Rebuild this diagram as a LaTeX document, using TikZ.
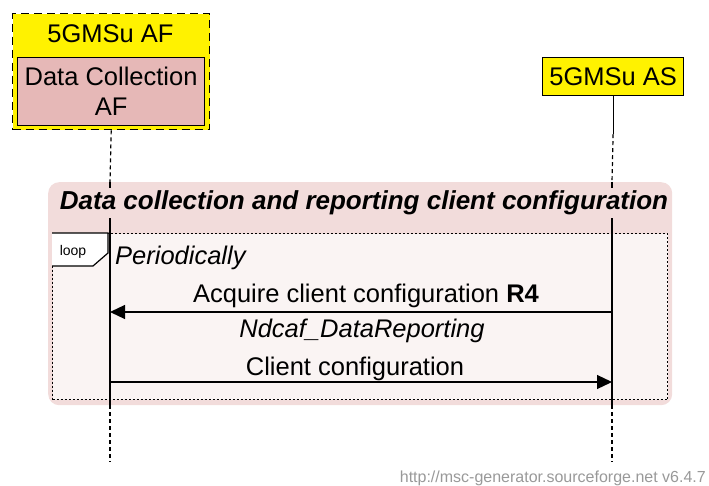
\documentclass[tikz,border=0pt]{standalone}
\usepackage{fontspec}
\setmainfont{Liberation Sans}
\usetikzlibrary{arrows.meta}
\definecolor{dcfill}{HTML}{E6B8B7}
\definecolor{hdr}{HTML}{F2DCDB}
\definecolor{body}{HTML}{FAF4F3}
\definecolor{foot}{HTML}{999999}
\tikzset{
  ent/.style={draw=black, line width=1.2pt, fill=yellow, inner sep=0pt},
  lifesolid/.style={draw=black, line width=1.2pt},
  lifedash/.style={draw=black, line width=1.2pt, dash pattern=on 4pt off 3pt},
  msg/.style={draw=black, line width=1.2pt, -{Triangle[length=15pt,width=14pt]}},
  lbl/.style={inner sep=0pt, font=\fontsize{25.5}{30}\selectfont},
}
\begin{document}
\begin{tikzpicture}[x=1pt,y=-1pt]
\useasboundingbox (0,0) rectangle (709,486);
% entities
\node[ent, dash pattern=on 8pt off 5pt, line width=1.4pt, minimum width=197pt, minimum height=116pt, anchor=north west] (af) at (12,13) {};
\node[lbl] (aftitle) at (110.5,34) {5GMSu AF};
\node[draw=black, line width=1.2pt, fill=dcfill, minimum width=187pt, minimum height=68pt, anchor=north west, inner sep=0pt, align=center, font=\fontsize{25.5}{30}\selectfont] (dcaf) at (17,57) {Data Collection\\AF};
\node[ent, minimum width=141pt, minimum height=38pt, anchor=north west, font=\fontsize{25.5}{30}\selectfont] (as) at (542,57) {5GMSu AS};
% coordinates on lifelines
\coordinate (l1a) at (110,182);
\coordinate (l1b) at (110,405);
\coordinate (l1c) at (110,462);
\coordinate (l2a) at (612,182);
\coordinate (l2b) at (612,405);
\coordinate (l2c) at (612,462);
% main box
\node[fill=hdr, rounded corners=11pt, minimum width=624pt, minimum height=223pt, anchor=north west, inner sep=0pt] (grp) at (48,182) {};
\node[fill=body, draw=black, line width=1.2pt, dash pattern=on 2pt off 2pt, minimum width=615pt, minimum height=166pt, anchor=north west, inner sep=0pt] (loop) at (52,233) {};
% lifelines
\draw[lifedash] (af.south) -- (l1a);
\draw[lifesolid] (l1a) -- (l1b);
\draw[lifedash] (l1b) -- (l1c);
\draw[lifedash] (as.south) ++(0,38) coordinate (asd) (asd) -- (l2a);
\draw[lifesolid] (as.south) -- (asd);
\draw[lifesolid] (l2a) -- (l2b);
\draw[lifedash] (l2b) -- (l2c);
% header
\node[fill=hdr, inner sep=0pt, minimum height=30pt, font=\fontsize{26}{30}\selectfont\bfseries\itshape] (htext) at (364,203) {Data collection and reporting client configuration};
% loop tag
\draw[fill=white, line width=1.2pt] (loop.north west) -- (108,233) -- (108,253) -- (93,266) -- (52,266);
\node[inner sep=0pt, font=\fontsize{14}{16}\selectfont] (looptag) at (73,252) {loop};
\node[lbl, font=\fontsize{25.5}{30}\selectfont\itshape, anchor=west] (period) at (115,258) {Periodically};
% messages
\coordinate (m1r) at (612,312);
\coordinate (m1l) at (110,312);
\coordinate (m2l) at (110,382);
\coordinate (m2r) at (612,382);
\draw[msg] (m1r) -- (m1l);
\node[lbl] (m1lbl) at (366,296) {Acquire client configuration \textbf{R4}};
\node[lbl, font=\fontsize{25.5}{30}\selectfont\itshape] (m1sub) at (362,331) {Ndcaf\_DataReporting};
\draw[msg] (m2l) -- (m2r);
\node[lbl] (m2lbl) at (355,369) {Client configuration};
% footer
\node[inner sep=0pt, anchor=east, text=foot, font=\fontsize{16}{18}\selectfont] (footer) at (706,478) {http://msc-generator.sourceforge.net v6.4.7};
\end{tikzpicture}
\end{document}
